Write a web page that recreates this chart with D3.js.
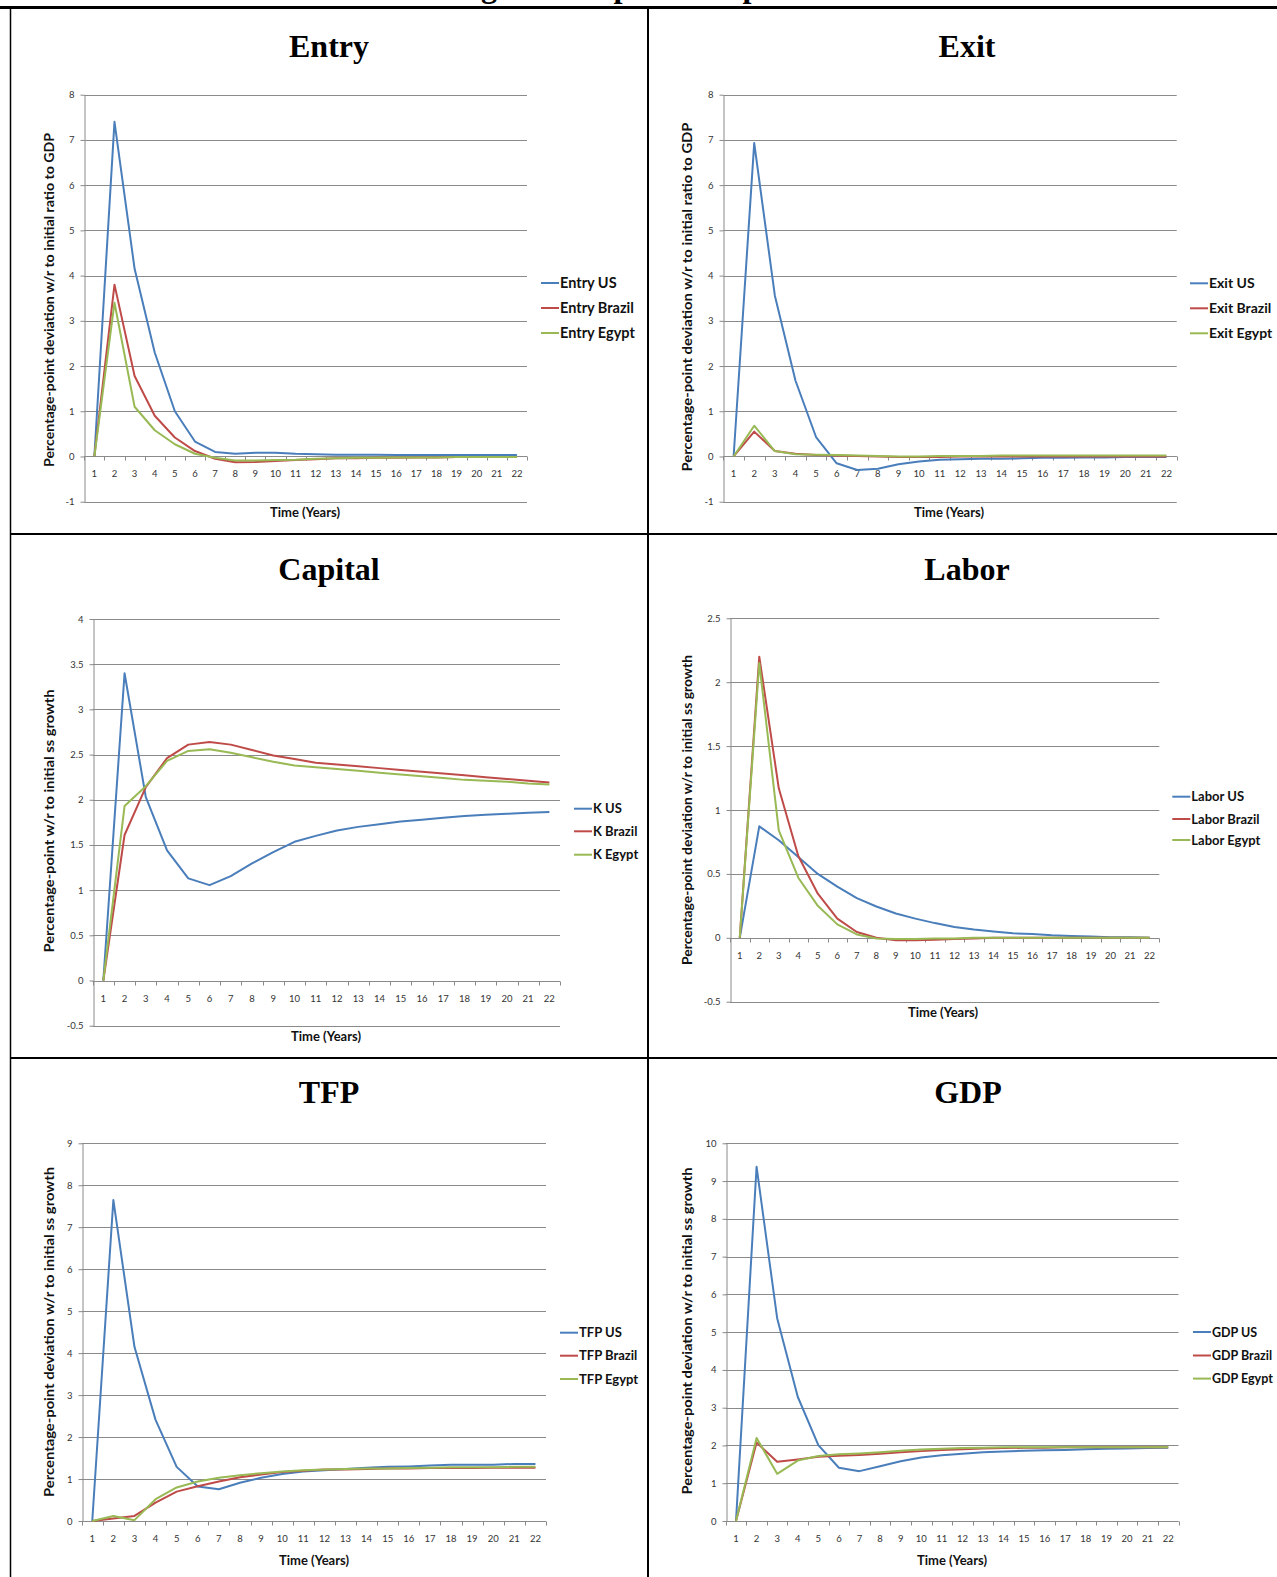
<!DOCTYPE html>
<html>
<head>
<meta charset="utf-8">
<script src="https://cdn.jsdelivr.net/npm/d3@7"></script>
<style>
  body { margin: 0; background: #fff; }
  svg { display: block; }
</style>
</head>
<body>
<script>
const W = 1277, H = 1577;

// time axis, years 1..22
const years = d3.range(1, 23);
const countries = ['US', 'Brazil', 'Egypt'];
const colors = ['#4a7ebb', '#be4b48', '#98b954'];

// ---- data ----
const entryUS     = [0, 7.4, 4.15, 2.3, 1.0, 0.33, 0.1, 0.06, 0.08, 0.08, 0.06, 0.05, 0.04, 0.04, 0.04, 0.03, 0.03, 0.03, 0.03, 0.03, 0.03, 0.03];
const entryBrazil = [0, 3.8, 1.78, 0.9, 0.42, 0.12, -0.05, -0.13, -0.12, -0.1, -0.08, -0.06, -0.04, -0.04, -0.03, -0.03, -0.02, -0.02, -0.01, -0.01, -0.01, -0.01];
const entryEgypt  = [0, 3.4, 1.1, 0.58, 0.27, 0.06, -0.03, -0.09, -0.09, -0.08, -0.07, -0.05, -0.04, -0.03, -0.03, -0.02, -0.02, -0.02, -0.01, -0.01, -0.01, -0.01];

const exitUS     = [0, 6.93, 3.56, 1.68, 0.43, -0.15, -0.3, -0.27, -0.17, -0.11, -0.07, -0.06, -0.05, -0.05, -0.04, -0.03, -0.03, -0.02, -0.02, -0.01, -0.01, -0.01];
const exitBrazil = [0, 0.55, 0.12, 0.06, 0.03, 0.02, 0.01, 0, -0.01, -0.01, -0.01, 0, 0, 0, 0, 0, 0, 0, 0, 0, 0, 0];
const exitEgypt  = [0, 0.68, 0.12, 0.05, 0.04, 0.03, 0.02, 0.01, 0, 0, 0.01, 0.01, 0.01, 0.02, 0.02, 0.02, 0.02, 0.02, 0.02, 0.02, 0.02, 0.02];

const capitalUS     = [0, 3.4, 2.03, 1.44, 1.13, 1.055, 1.155, 1.295, 1.42, 1.535, 1.6, 1.66, 1.7, 1.73, 1.76, 1.78, 1.8, 1.82, 1.835, 1.845, 1.855, 1.865];
const capitalBrazil = [0, 1.61, 2.14, 2.46, 2.61, 2.64, 2.61, 2.55, 2.49, 2.45, 2.41, 2.39, 2.37, 2.35, 2.33, 2.31, 2.29, 2.27, 2.25, 2.23, 2.21, 2.19];
const capitalEgypt  = [0, 1.93, 2.15, 2.43, 2.54, 2.56, 2.52, 2.47, 2.42, 2.38, 2.36, 2.34, 2.32, 2.3, 2.28, 2.26, 2.24, 2.22, 2.21, 2.2, 2.18, 2.17];

const laborUS     = [0, 0.872, 0.763, 0.632, 0.5, 0.4, 0.31, 0.245, 0.19, 0.15, 0.115, 0.085, 0.065, 0.05, 0.035, 0.03, 0.02, 0.015, 0.01, 0.005, 0.005, 0];
const laborBrazil = [0, 2.2, 1.17, 0.64, 0.345, 0.15, 0.045, 0, -0.02, -0.02, -0.015, -0.01, -0.005, 0, 0, 0, 0, 0, 0, 0, 0, 0];
const laborEgypt  = [0, 2.15, 0.84, 0.47, 0.25, 0.105, 0.026, -0.005, -0.01, -0.01, -0.005, -0.005, 0, 0, 0, 0, 0, 0, 0, 0, 0, 0];

const tfpUS     = [0, 7.65, 4.15, 2.41, 1.29, 0.82, 0.755, 0.91, 1.03, 1.12, 1.18, 1.21, 1.24, 1.27, 1.29, 1.3, 1.32, 1.34, 1.34, 1.34, 1.36, 1.36];
const tfpBrazil = [0, 0.06, 0.12, 0.44, 0.7, 0.83, 0.94, 1.04, 1.11, 1.17, 1.2, 1.23, 1.23, 1.24, 1.25, 1.25, 1.26, 1.26, 1.26, 1.27, 1.27, 1.27];
const tfpEgypt  = [0, 0.12, 0.02, 0.52, 0.8, 0.94, 1.03, 1.09, 1.14, 1.18, 1.21, 1.23, 1.24, 1.25, 1.25, 1.26, 1.27, 1.28, 1.28, 1.28, 1.29, 1.29];

const gdpUS     = [0, 9.38, 5.37, 3.29, 2.01, 1.41, 1.32, 1.45, 1.58, 1.68, 1.74, 1.78, 1.82, 1.84, 1.86, 1.87, 1.88, 1.9, 1.91, 1.92, 1.93, 1.94];
const gdpBrazil = [0, 2.08, 1.57, 1.63, 1.7, 1.73, 1.75, 1.78, 1.82, 1.85, 1.88, 1.9, 1.92, 1.93, 1.94, 1.94, 1.95, 1.95, 1.95, 1.95, 1.95, 1.95];
const gdpEgypt  = [0, 2.2, 1.25, 1.6, 1.72, 1.77, 1.79, 1.82, 1.86, 1.89, 1.91, 1.93, 1.94, 1.95, 1.95, 1.95, 1.95, 1.95, 1.95, 1.95, 1.95, 1.95];

// y tick labels
const entryTicks   = [-1, 0, 1, 2, 3, 4, 5, 6, 7, 8];
const exitTicks    = [-1, 0, 1, 2, 3, 4, 5, 6, 7, 8];
const capitalTicks = [-0.5, 0, 0.5, 1, 1.5, 2, 2.5, 3, 3.5, 4];
const laborTicks   = [-0.5, 0, 0.5, 1, 1.5, 2, 2.5];
const tfpTicks     = [0, 1, 2, 3, 4, 5, 6, 7, 8, 9];
const gdpTicks     = [0, 1, 2, 3, 4, 5, 6, 7, 8, 9, 10];

const yTitleRatio = 'Percentage-point deviation w/r to initial ratio to GDP';
const yTitleSS    = 'Percentage-point deviation w/r to initial ss growth';
const yTitleK     = 'Percentage-point w/r to initial ss growth';

const panels = [
  { title: 'Entry', prefix: 'Entry', series: [entryUS, entryBrazil, entryEgypt], ticks: entryTicks, ylab: yTitleRatio,
    titleX: 329, titleY: 57, x0: 84.3, x1: 527, yt: 94.7, yb: 501.7, legSize: 14.5,
    legX: 541, legRows: [283, 308, 333], yTitle: [50, 300, 334], timeX: 305, timeY: 512 },
  { title: 'Exit', prefix: 'Exit', series: [exitUS, exitBrazil, exitEgypt], ticks: exitTicks, ylab: yTitleRatio,
    titleX: 967, titleY: 57, x0: 723.3, x1: 1176.7, yt: 94.7, yb: 501.7, legSize: 14,
    legX: 1190, legRows: [283.3, 308.3, 333.3], yTitle: [688, 297, 349], timeX: 949, timeY: 512 },
  { title: 'Capital', prefix: 'K', series: [capitalUS, capitalBrazil, capitalEgypt], ticks: capitalTicks, ylab: yTitleK,
    titleX: 329, titleY: 580, x0: 92.7, x1: 560, yt: 619, yb: 1025.7, legSize: 13,
    legX: 574, legRows: [808.7, 831.3, 854.7], yTitle: [50, 821, 263], timeX: 326, timeY: 1036 },
  { title: 'Labor', prefix: 'Labor', series: [laborUS, laborBrazil, laborEgypt], ticks: laborTicks, ylab: yTitleSS,
    titleX: 967, titleY: 580, x0: 730, x1: 1159.3, yt: 618.3, yb: 1001.7, legSize: 13,
    legX: 1172.3, legRows: [796.7, 819, 840], yTitle: [688, 810, 310], timeX: 943, timeY: 1012 },
  { title: 'TFP', prefix: 'TFP', series: [tfpUS, tfpBrazil, tfpEgypt], ticks: tfpTicks, ylab: yTitleSS,
    titleX: 329, titleY: 1103, x0: 81.7, x1: 546, yt: 1143.3, yb: 1521, legSize: 13,
    legX: 560, legRows: [1332.7, 1355.7, 1379], yTitle: [50, 1332, 330], timeX: 314, timeY: 1560.7 },
  { title: 'GDP', prefix: 'GDP', series: [gdpUS, gdpBrazil, gdpEgypt], ticks: gdpTicks, ylab: yTitleSS,
    titleX: 968, titleY: 1103, x0: 725.7, x1: 1178.5, yt: 1143.3, yb: 1521, legSize: 12.5,
    legX: 1193, legRows: [1332, 1355.5, 1378.6], yTitle: [688, 1331, 327], timeX: 952, timeY: 1560.6 },
];

const svg = d3.select('body').append('svg')
  .attr('width', W)
  .attr('height', H);

svg.append('rect').attr('width', W).attr('height', H).attr('fill', '#fff');

// caption above the table, cut off by the page edge: only descenders show
const cap = svg.append('text')
  .attr('x', 0).attr('y', -3)
  .attr('font-family', 'Liberation Serif, Times New Roman, serif')
  .attr('font-weight', 'bold')
  .attr('font-size', 32)
  .text('Table 2: Long-Run Impulse Responses');
{
  const node = cap.node();
  const gx = node.getStartPositionOfChar(cap.text().indexOf('g')).x;
  cap.attr('x', 487 - gx - 6);
}

// table rules
const rule = (x1, y1, x2, y2, w) => svg.append('line')
  .attr('x1', x1).attr('y1', y1).attr('x2', x2).attr('y2', y2)
  .attr('stroke', '#000').attr('stroke-width', w);
rule(0, 7.5, W, 7.5, 3);
rule(10.5, 7, 10.5, H, 1.5);
rule(648, 7, 648, H, 2);
rule(10, 534, W, 534, 2);
rule(10, 1058, W, 1058, 2);

const gridColor = '#8a8a8a';
const labelFont = 'Lato, Carlito, Calibri, sans-serif';

panels.forEach(p => {
  const g = svg.append('g');

  g.append('text')
    .attr('x', p.titleX).attr('y', p.titleY)
    .attr('text-anchor', 'middle')
    .attr('font-family', 'Liberation Serif, Times New Roman, serif')
    .attr('font-weight', 'bold')
    .attr('font-size', 32)
    .text(p.title);

  const x = d3.scaleBand().domain(years).range([p.x0, p.x1]);
  const y = d3.scaleLinear()
    .domain([p.ticks[0], p.ticks[p.ticks.length - 1]])
    .range([p.yb, p.yt]);
  const bw = x.bandwidth();

  // gridlines
  g.selectAll('.grid')
    .data(p.ticks)
    .join('line')
      .attr('x1', p.x0).attr('x2', p.x1)
      .attr('y1', d => Math.round(y(d)) + 0.5)
      .attr('y2', d => Math.round(y(d)) + 0.5)
      .attr('stroke', gridColor)
      .attr('stroke-width', 1);

  // y axis
  const yAxis = g.append('g')
    .attr('transform', `translate(${Math.round(p.x0) + 0.5},0)`)
    .call(d3.axisLeft(y).tickValues(p.ticks).tickSize(4).tickPadding(6).tickSizeOuter(0)
      .tickFormat(d => String(d)));
  yAxis.select('.domain').attr('stroke', gridColor);
  yAxis.selectAll('.tick line').attr('stroke', gridColor);
  yAxis.selectAll('.tick text')
    .attr('font-family', labelFont).attr('font-size', 9.5).attr('fill', '#333');

  // x axis at zero
  const y0 = Math.round(y(0)) + 0.5;
  g.append('line')
    .attr('x1', p.x0).attr('x2', p.x1).attr('y1', y0).attr('y2', y0)
    .attr('stroke', gridColor);
  g.selectAll('.xtick')
    .data(d3.range(years.length + 1))
    .join('line')
      .attr('x1', i => Math.round(p.x0 + i * bw) + 0.5)
      .attr('x2', i => Math.round(p.x0 + i * bw) + 0.5)
      .attr('y1', y0).attr('y2', y0 + 4)
      .attr('stroke', gridColor);
  g.selectAll('.xlab')
    .data(years)
    .join('text')
      .attr('x', d => x(d) + bw / 2)
      .attr('y', y0 + 20)
      .attr('text-anchor', 'middle')
      .attr('font-family', labelFont).attr('font-size', 9.5).attr('fill', '#333')
      .text(d => d);

  // series
  const line = d3.line()
    .x((d, i) => x(years[i]) + bw / 2)
    .y(d => y(d));
  p.series.forEach((s, k) => {
    g.append('path')
      .datum(s)
      .attr('d', line)
      .attr('fill', 'none')
      .attr('stroke', colors[k])
      .attr('stroke-width', 2)
      .attr('stroke-linejoin', 'round');
  });

  // legend
  countries.forEach((c, k) => {
    const ly = p.legRows[k];
    g.append('line')
      .attr('x1', p.legX).attr('x2', p.legX + 18)
      .attr('y1', ly).attr('y2', ly)
      .attr('stroke', colors[k]).attr('stroke-width', 2);
    g.append('text')
      .attr('x', p.legX + 19).attr('y', ly + p.legSize * 0.36)
      .attr('font-family', labelFont).attr('font-weight', 'bold')
      .attr('font-size', p.legSize).attr('fill', '#111')
      .text(`${p.prefix} ${c}`);
  });

  // axis titles
  g.append('text')
    .attr('transform', `translate(${p.yTitle[0] + 4},${p.yTitle[1]}) rotate(-90)`)
    .attr('text-anchor', 'middle')
    .attr('font-family', labelFont).attr('font-weight', 'bold')
    .attr('font-size', 12.5).attr('fill', '#111')
    .attr('textLength', p.yTitle[2]).attr('lengthAdjust', 'spacingAndGlyphs')
    .text(p.ylab);
  g.append('text')
    .attr('x', p.timeX).attr('y', p.timeY + 4.5)
    .attr('text-anchor', 'middle')
    .attr('font-family', labelFont).attr('font-weight', 'bold')
    .attr('font-size', 13).attr('fill', '#111')
    .text('Time (Years)');
});
</script>
</body>
</html>
